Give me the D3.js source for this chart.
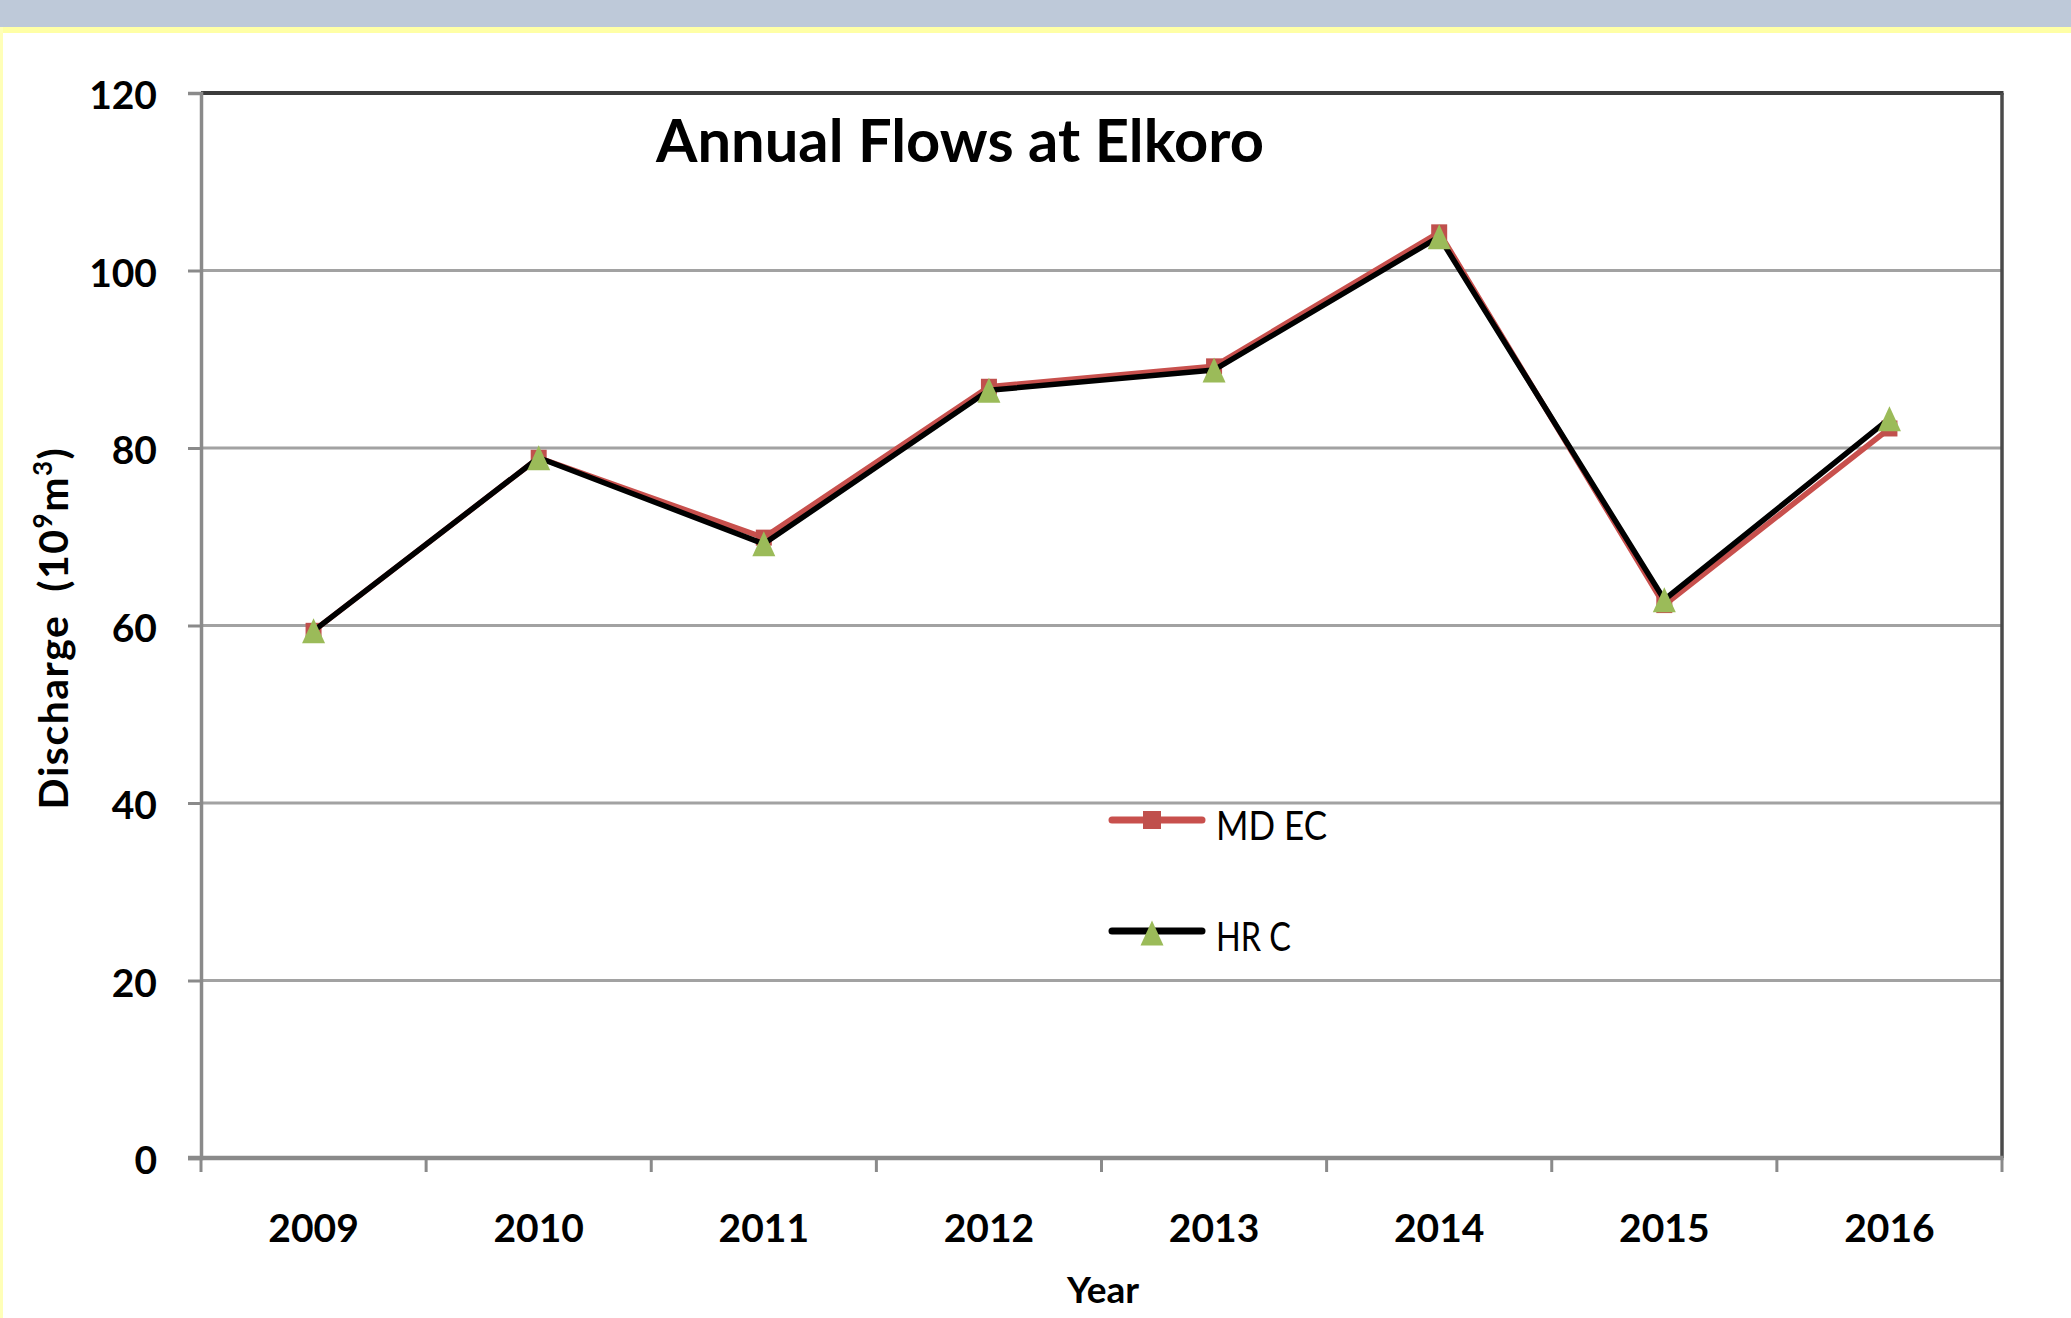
<!DOCTYPE html>
<html>
<head>
<meta charset="utf-8">
<script src="https://cdn.jsdelivr.net/npm/d3@7"></script>
<style>
  html, body { margin: 0; padding: 0; background: #fff; }
  svg { display: block; }
  text { font-family: Lato, "Open Sans", sans-serif; fill: #000; }
</style>
</head>
<body>
<svg id="chart" width="2071" height="1318"></svg>
<script>
const years = ["2009", "2010", "2011", "2012", "2013", "2014", "2015", "2016"];
const mdec = [59.4, 78.9, 69.9, 86.9, 89.2, 104.3, 62.3, 82.2];
const hrc  = [59.4, 78.9, 69.2, 86.5, 88.8, 103.8, 62.9, 83.3];
const yTicks = [0, 20, 40, 60, 80, 100, 120];
const seriesNames = ["MD EC", "HR C"];

const W = 2071, H = 1318;
const plot = { left: 201, right: 2002, top: 93, bottom: 1158 };

const svg = d3.select("#chart");

// slide background
svg.append("rect").attr("x", 0).attr("y", 0).attr("width", W).attr("height", H).attr("fill", "#fff");
svg.append("rect").attr("x", 0).attr("y", 0).attr("width", W).attr("height", 27).attr("fill", "#BEC9D9");
svg.append("rect").attr("x", 0).attr("y", 27).attr("width", W).attr("height", 6).attr("fill", "#FFFFA6");
svg.append("rect").attr("x", 0).attr("y", 27).attr("width", 3).attr("height", H - 27).attr("fill", "#FFFFB8");

const x = d3.scaleBand().domain(years).range([plot.left, plot.right]).padding(0);
const y = d3.scaleLinear().domain([0, 120]).range([plot.bottom, plot.top]);
const cx = d => x(d) + x.bandwidth() / 2;

// gridlines
svg.append("g").selectAll("line").data(yTicks.filter(t => t > 0 && t < 120)).join("line")
  .attr("x1", plot.left).attr("x2", plot.right)
  .attr("y1", d => y(d)).attr("y2", d => y(d))
  .attr("stroke", "#a2a2a2").attr("stroke-width", 3);

// plot border (top & right dark)
svg.append("line").attr("x1", plot.left).attr("x2", plot.right + 1.5)
  .attr("y1", y(120)).attr("y2", y(120)).attr("stroke", "#3c3c3c").attr("stroke-width", 4);
svg.append("line").attr("x1", plot.right).attr("x2", plot.right)
  .attr("y1", y(120)).attr("y2", plot.bottom).attr("stroke", "#4a4a4a").attr("stroke-width", 3.5);

// y axis
const yAxis = d3.axisLeft(y).tickValues(yTicks).tickSize(13).tickPadding(31).tickFormat(d3.format("d"));
const gy = svg.append("g").attr("transform", `translate(${plot.left},0)`).call(yAxis);
gy.select(".domain").attr("stroke", "#8a8a8a").attr("stroke-width", 3.5);
gy.selectAll(".tick line").attr("stroke", "#8a8a8a").attr("stroke-width", 3);
gy.selectAll(".tick text").attr("font-family", "Lato, sans-serif").attr("font-weight", "bold")
  .attr("font-size", 39).attr("fill", "#000").attr("dy", "0.40em");

// x axis: labels centered in bands, ticks at band edges
const xAxis = d3.axisBottom(x).tickSize(0).tickPadding(0);
const gx = svg.append("g").attr("transform", `translate(0,${plot.bottom})`).call(xAxis);
gx.select(".domain").remove();
gx.selectAll(".tick text").attr("font-family", "Lato, sans-serif").attr("font-weight", "bold")
  .attr("font-size", 39).attr("fill", "#000").attr("y", 84).attr("dy", 0);
const edges = years.map(d => x(d)).concat([x(years[years.length - 1]) + x.bandwidth()]);
svg.append("g").selectAll("line").data(edges).join("line")
  .attr("x1", d => d).attr("x2", d => d)
  .attr("y1", plot.bottom).attr("y2", plot.bottom + 14)
  .attr("stroke", "#8a8a8a").attr("stroke-width", 3);
svg.append("line").attr("x1", plot.left - 13).attr("x2", plot.right + 1.5)
  .attr("y1", plot.bottom).attr("y2", plot.bottom)
  .attr("stroke", "#8a8a8a").attr("stroke-width", 4.5);

// series
const line = d3.line().x((d, i) => cx(years[i])).y(d => y(d));
const triPath = "M0,-12.5L11.5,12.5L-11.5,12.5Z";

svg.append("path").datum(mdec).attr("d", line).attr("fill", "none")
  .attr("stroke", "#C8504D").attr("stroke-width", 5.5).attr("stroke-linejoin", "round");
svg.append("g").selectAll("rect").data(mdec).join("rect")
  .attr("x", (d, i) => cx(years[i]) - 8).attr("y", d => y(d) - 8)
  .attr("width", 16).attr("height", 16).attr("fill", "#C0504D");

svg.append("path").datum(hrc).attr("d", line).attr("fill", "none")
  .attr("stroke", "#000").attr("stroke-width", 5.5).attr("stroke-linejoin", "round");
svg.append("g").selectAll("path").data(hrc).join("path")
  .attr("d", triPath)
  .attr("transform", (d, i) => `translate(${cx(years[i])},${y(d)})`)
  .attr("fill", "#9BBB59");

// title
svg.append("text").attr("x", 656).attr("y", 162)
  .attr("font-family", "Lato, sans-serif").attr("font-weight", "bold").attr("font-size", 60)
  .attr("textLength", 608).attr("lengthAdjust", "spacingAndGlyphs")
  .text("Annual Flows at Elkoro");

// y axis title
const yt = svg.append("text").attr("transform", "translate(68,628) rotate(-90)")
  .attr("text-anchor", "middle").attr("font-family", "Lato, sans-serif")
  .attr("font-weight", "bold").attr("font-size", 41).attr("letter-spacing", 1.5);
yt.append("tspan").text("Discharge\u00a0\u00a0(10");
yt.append("tspan").attr("font-size", 26).attr("dy", -16).text("9");
yt.append("tspan").attr("dy", 16).text("m");
yt.append("tspan").attr("font-size", 26).attr("dy", -16).text("3");
yt.append("tspan").attr("dy", 16).text(")");

// x axis title
svg.append("text").attr("x", 1103).attr("y", 1303).attr("text-anchor", "middle")
  .attr("font-family", "Lato, sans-serif").attr("font-weight", "bold").attr("font-size", 37)
  .text("Year");

// legend
const leg = svg.append("g");
const legY = [820, 931];
const legW = [111, 75];
leg.append("line").attr("x1", 1112).attr("x2", 1202).attr("y1", legY[0]).attr("y2", legY[0])
  .attr("stroke", "#C8504D").attr("stroke-width", 7).attr("stroke-linecap", "round");
leg.append("rect").attr("x", 1143).attr("y", legY[0] - 9).attr("width", 18).attr("height", 18).attr("fill", "#C0504D");
leg.append("line").attr("x1", 1112).attr("x2", 1202).attr("y1", legY[1]).attr("y2", legY[1])
  .attr("stroke", "#000").attr("stroke-width", 7).attr("stroke-linecap", "round");
leg.append("path").attr("d", triPath).attr("transform", `translate(1152,${legY[1] + 2})`).attr("fill", "#9BBB59");
leg.selectAll("text").data(seriesNames).join("text")
  .attr("x", 1216).attr("y", (d, i) => legY[i] + 20)
  .attr("font-family", "Lato, sans-serif").attr("font-size", 40)
  .attr("textLength", (d, i) => legW[i]).attr("lengthAdjust", "spacingAndGlyphs")
  .text(d => d);
</script>
</body>
</html>
